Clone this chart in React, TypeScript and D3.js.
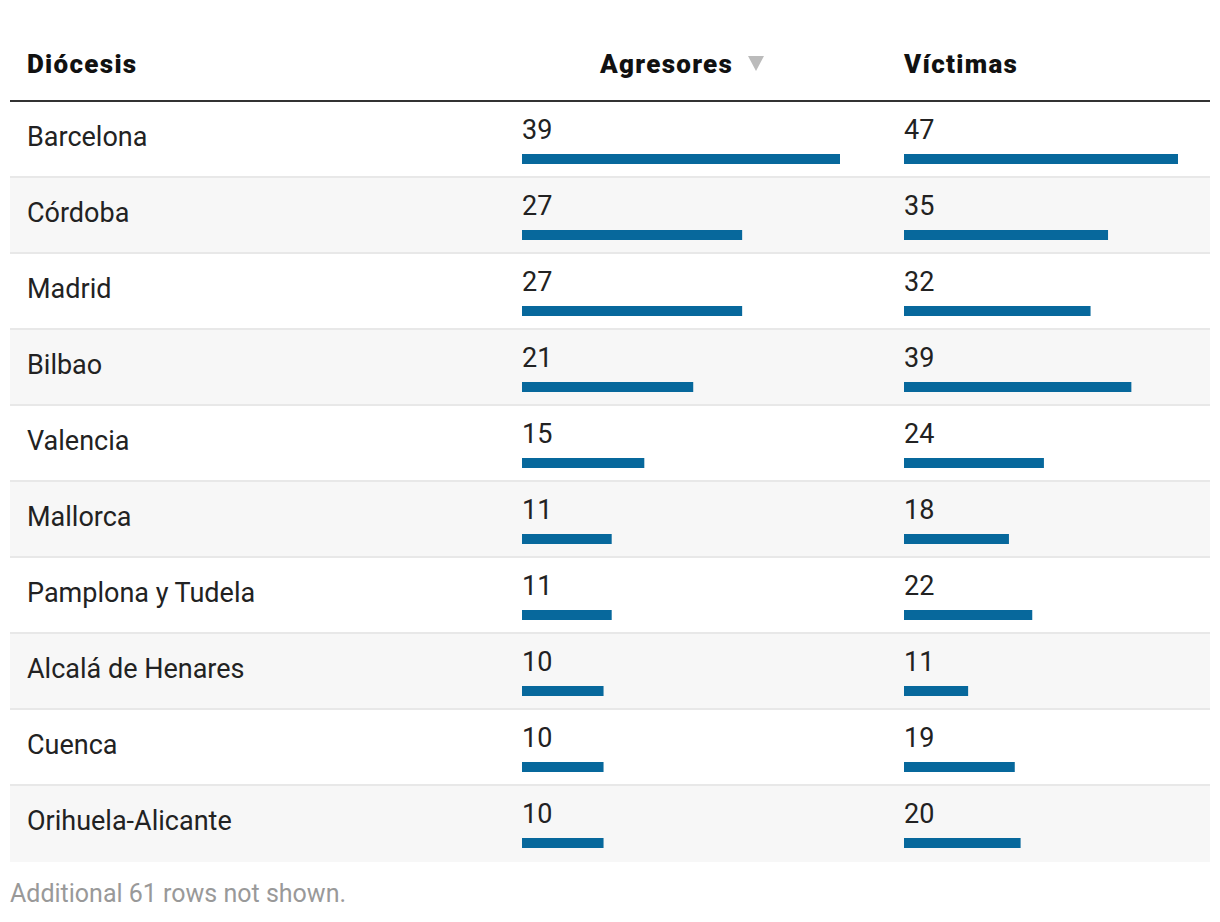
import React from "react";
import * as d3 from "d3";

const dioceses = [
  "Barcelona",
  "Córdoba",
  "Madrid",
  "Bilbao",
  "Valencia",
  "Mallorca",
  "Pamplona y Tudela",
  "Alcalá de Henares",
  "Cuenca",
  "Orihuela-Alicante",
];
const agresores = [39, 27, 27, 21, 15, 11, 11, 10, 10, 10];
const victimas = [47, 35, 32, 39, 24, 18, 22, 11, 19, 20];
const headers = ["Diócesis", "Agresores", "Víctimas"];
const footnote = "Additional 61 rows not shown.";

const W = 1220;
const H = 922;
const FONT = "Roboto, 'Liberation Sans', sans-serif";

export default function App() {
  const left = 10;
  const right = 1210;
  const tableTop = 102;
  const rowH = 76;
  const y = d3
    .scaleBand<string>()
    .domain(dioceses)
    .range([tableTop, tableTop + rowH * dioceses.length])
    .paddingInner(0)
    .paddingOuter(0);

  const xA = d3.scaleLinear().domain([0, d3.max(agresores) as number]).range([0, 318]);
  const xV = d3.scaleLinear().domain([0, d3.max(victimas) as number]).range([0, 274]);
  const colA = 522;
  const colV = 904;
  const barColor = "#07689c";
  const hdr = { fontSize: 26, fontWeight: 900, fill: "#111", letterSpacing: 1.3 } as const;

  return (
    <svg
      width={W}
      height={H}
      style={{ position: "absolute", left: 0, top: 0, background: "#fff" }}
      fontFamily={FONT}
    >
      {/* header */}
      <text x={27} y={73} {...hdr}>
        {headers[0]}
      </text>
      <text x={600} y={73} {...hdr}>
        {headers[1]}
      </text>
      <path d="M748,56 L764,56 L756,71 Z" fill="#bbb" />
      <text x={904} y={73} {...hdr}>
        {headers[2]}
      </text>
      <rect x={left} y={100} width={right - left} height={2} fill="#333" />

      {dioceses.map((d, i) => {
        const y0 = y(d) as number;
        return (
          <g key={d}>
            <rect
              x={left}
              y={y0}
              width={right - left}
              height={rowH}
              fill={i % 2 === 1 ? "#f7f7f7" : "#ffffff"}
            />
            {i < dioceses.length - 1 && (
              <rect x={left} y={y0 + rowH - 2} width={right - left} height={2} fill="#e8e8e8" />
            )}
            <text x={27} y={y0 + 44} fontSize={27} fill="#222">
              {d}
            </text>
            <text x={colA} y={y0 + 36.5} fontSize={27} fill="#222">
              {agresores[i]}
            </text>
            <rect x={colA} y={y0 + 52} width={xA(agresores[i])} height={10} fill={barColor} />
            <text x={colV} y={y0 + 36.5} fontSize={27} fill="#222">
              {victimas[i]}
            </text>
            <rect x={colV} y={y0 + 52} width={xV(victimas[i])} height={10} fill={barColor} />
          </g>
        );
      })}

      <text x={10} y={902} fontSize={25} fill="#999">
        {footnote}
      </text>
    </svg>
  );
}
